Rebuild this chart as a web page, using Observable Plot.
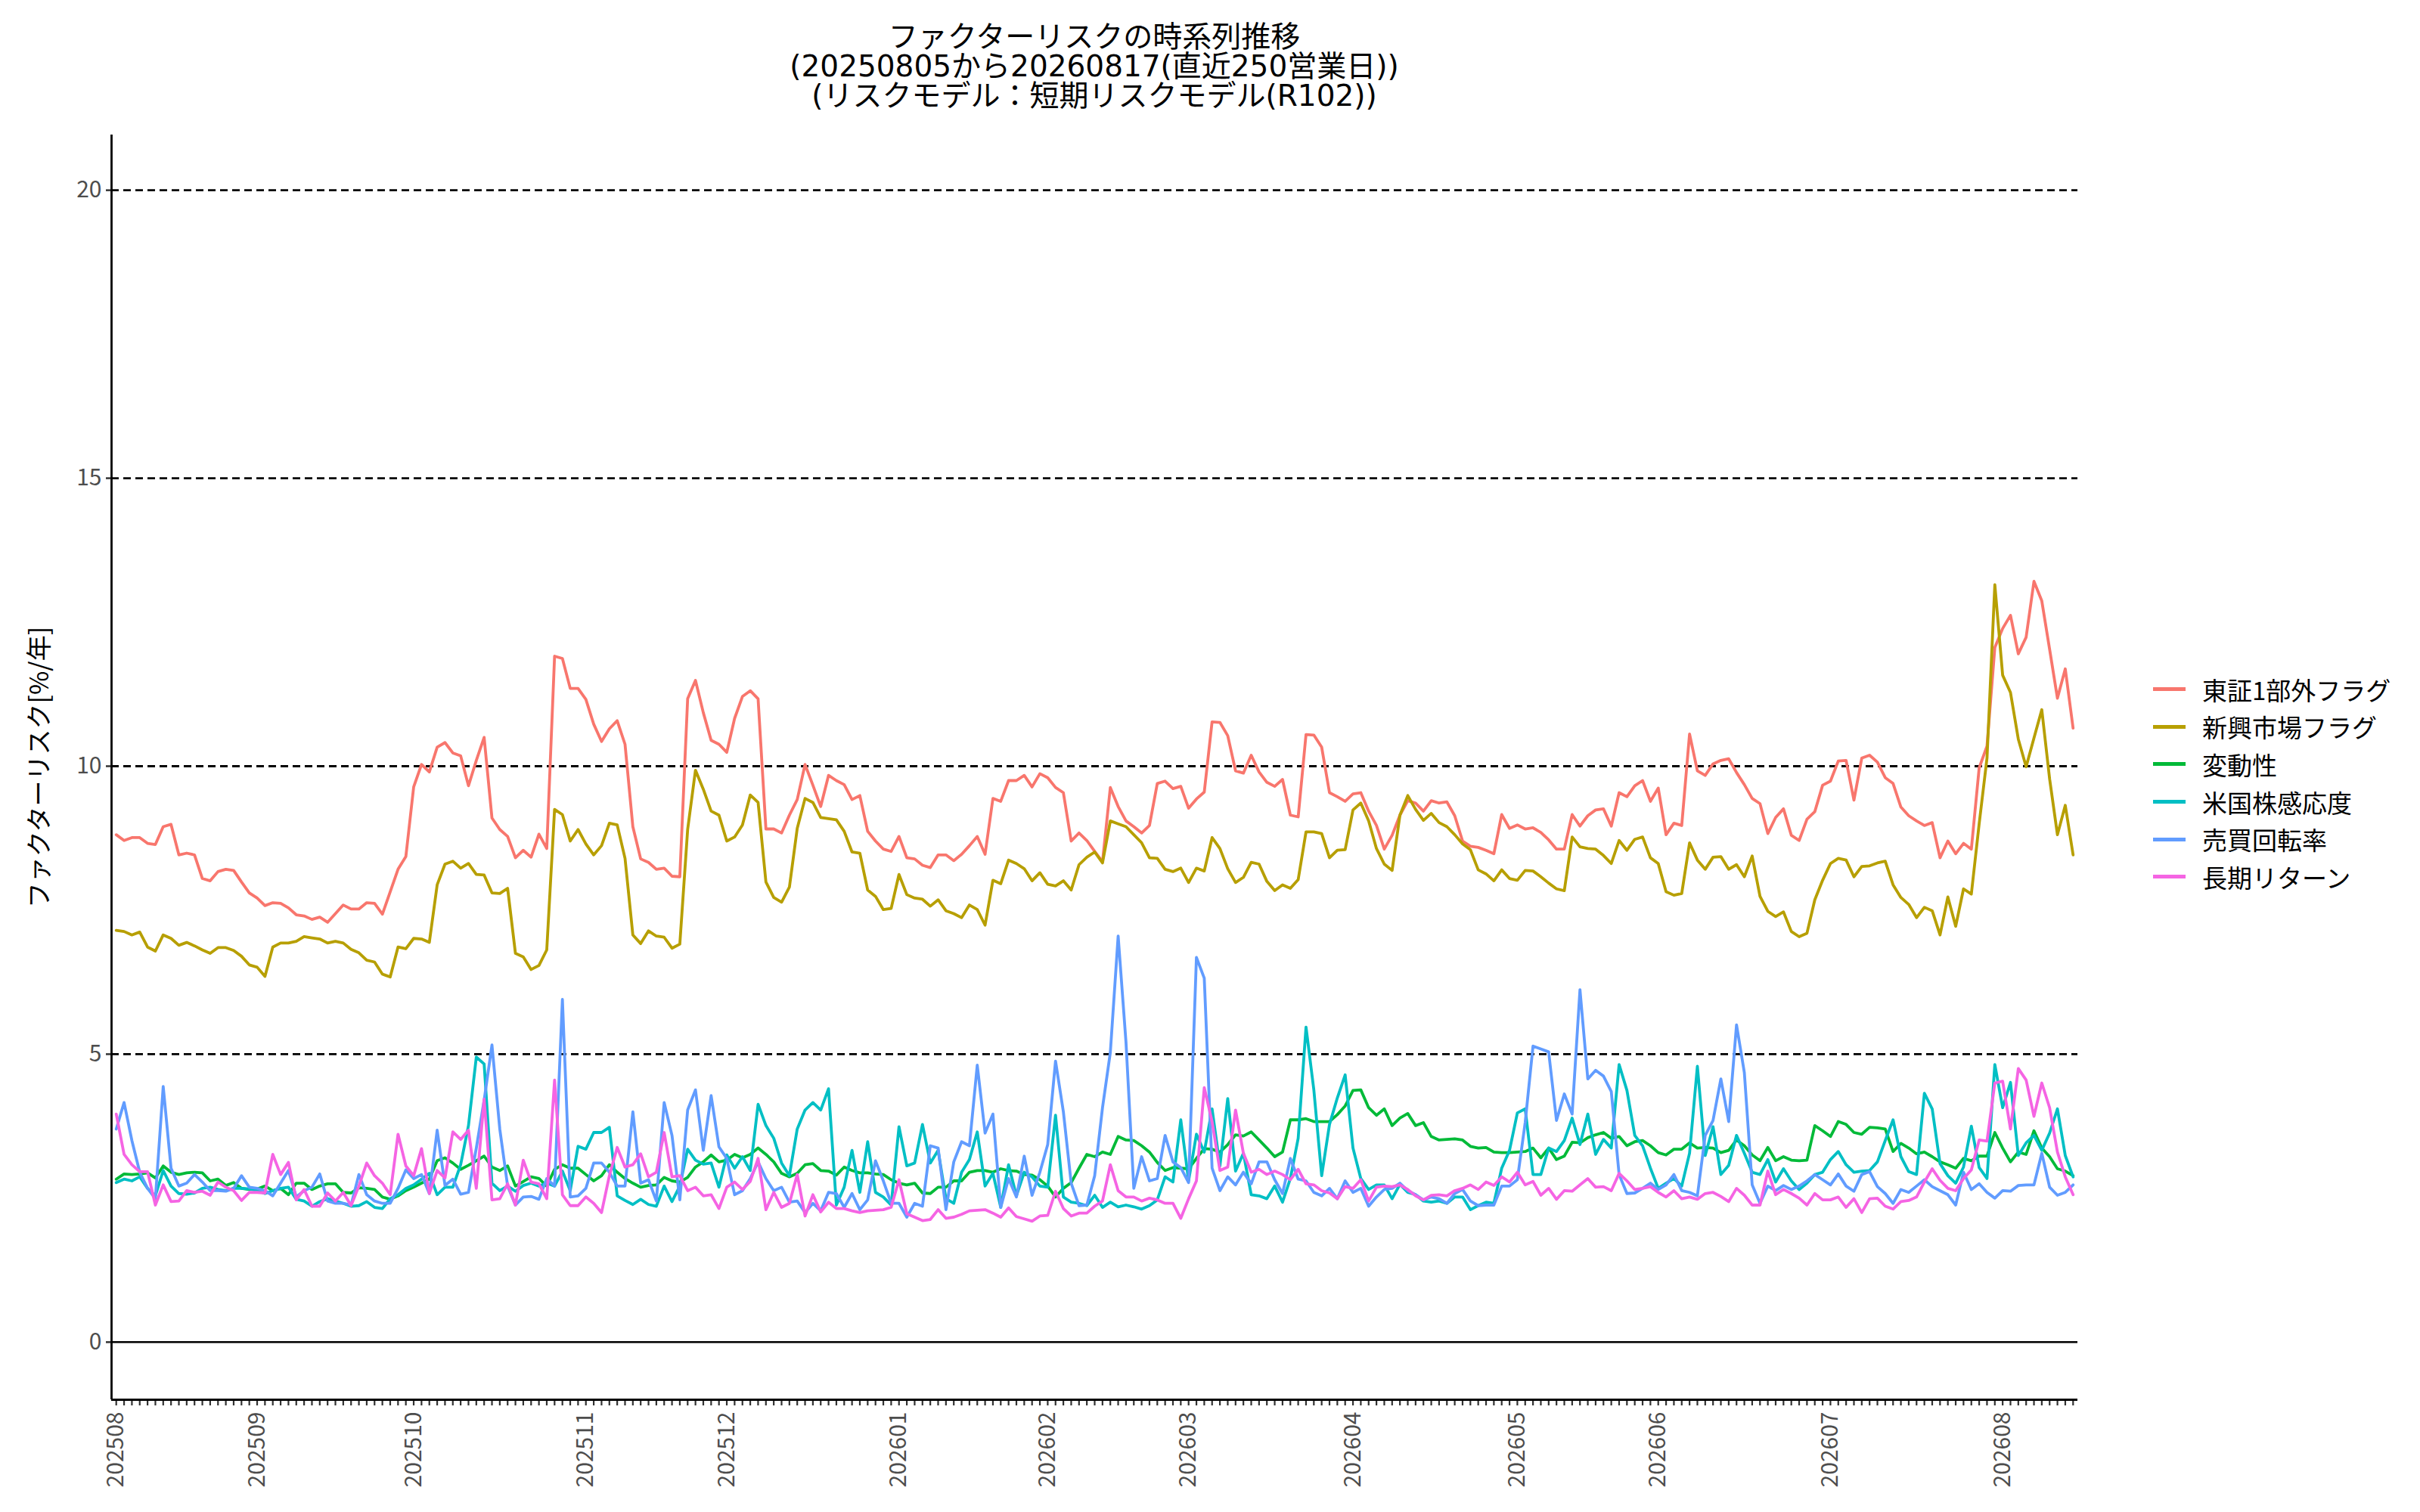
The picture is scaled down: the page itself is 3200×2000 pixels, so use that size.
<!DOCTYPE html>
<html>
<head>
<meta charset="utf-8">
<script src="https://cdn.jsdelivr.net/npm/d3@7"></script>
<script src="https://cdn.jsdelivr.net/npm/@observablehq/plot@0.6"></script>
<style>
html, body { margin: 0; padding: 0; background: #fff; }
#wrap { position: relative; width: 3200px; height: 2000px; background: #fff; font-family: "Noto Sans CJK JP", "Noto Sans", sans-serif; }
#title { position: absolute; left: 0; top: 29px; width: 2894px; text-align: center; color: #000; font-family: "DejaVu Sans", "Noto Sans CJK JP", sans-serif; }
#title div { font-size: 39px; line-height: 39px; height: 39px; white-space: nowrap; }
#chart { position: absolute; left: 0; top: 150px; }
#legend { position: absolute; left: 2847px; top: 887px; }
.row { height: 49.6px; display: flex; align-items: center; font-size: 33px; color: #000; white-space: nowrap; }
.key { width: 43px; height: 5px; margin-right: 22px; }
</style>
</head>
<body>
<div id="wrap">
  <div id="title"></div>
  <div id="chart"></div>
  <div id="legend"></div>
</div>
<script>
// ---- texts / categories / labels ----
const titleLines = ["ファクターリスクの時系列推移", "(20250805から20260817(直近250営業日))", "(リスクモデル：短期リスクモデル(R102))"];
const seriesNames = ["東証1部外フラグ", "新興市場フラグ", "変動性", "米国株感応度", "売買回転率", "長期リターン"];
const seriesColors = ["#F8766D", "#B79F00", "#00BA38", "#00BFC4", "#619CFF", "#F564E3"];
const monthStarts = [0, 18, 38, 60, 78, 100, 119, 137, 158, 179, 197, 219, 241];
const monthLabels = ["202508", "202509", "202510", "202511", "202512", "202601", "202602", "202603", "202604", "202605", "202606", "202607", "202608"];
const yTicks = [0, 5, 10, 15, 20];
const gridValues = [5, 10, 15, 20];
const yTitle = "ファクターリスク[%/年]";

// ---- series values (one per business day, 20250805 .. 20260817) ----
const tosho = [
 8.81,8.71,8.76,8.76,8.66,8.64,8.95,8.99,8.46,8.49,
 8.46,8.05,8.01,8.17,8.21,8.19,7.99,7.80,7.71,7.58,
 7.63,7.62,7.54,7.42,7.40,7.34,7.38,7.29,7.44,7.59,
 7.52,7.52,7.63,7.62,7.43,7.82,8.21,8.43,9.64,10.03,
 9.90,10.33,10.41,10.23,10.18,9.66,10.10,10.50,9.10,8.90,
 8.78,8.41,8.54,8.42,8.82,8.57,11.91,11.87,11.35,11.35,
 11.16,10.73,10.43,10.65,10.79,10.38,8.95,8.39,8.33,8.21,
 8.23,8.09,8.08,11.17,11.49,10.93,10.45,10.38,10.24,10.83,
 11.21,11.31,11.17,
 8.91,8.91,8.84,9.15,9.42,10.03,9.67,9.30,9.84,9.75,
 9.68,9.42,9.49,8.87,8.70,8.56,8.52,8.78,8.41,8.39,
 8.28,8.24,8.46,8.46,8.36,8.47,8.62,8.78,8.47,9.44,
 9.39,9.75,9.75,9.84,9.64,9.87,9.80,9.63,9.54,8.70,
 8.84,8.71,8.52,8.34,9.63,9.30,9.05,8.95,8.84,8.97,
 9.70,9.74,9.61,9.65,9.27,9.43,9.55,10.77,10.76,10.53,
 9.92,9.88,10.19,9.90,9.72,9.65,9.77,9.15,9.12,10.55,
 10.54,10.33,9.54,9.47,9.39,9.52,9.54,9.22,8.97,8.56,
 8.80,9.15,9.40,
 9.36,9.22,9.40,9.36,9.38,9.14,8.70,8.61,8.59,8.54,
 8.48,9.16,8.92,8.98,8.91,8.93,8.85,8.72,8.56,8.56,
 9.16,8.96,9.14,9.24,9.26,8.96,9.54,9.47,9.66,9.75,
 9.39,9.62,8.81,9.01,8.97,10.56,9.92,9.84,10.04,10.10,
 10.13,9.89,9.68,9.44,9.35,8.83,9.11,9.26,8.80,8.71,
 9.08,9.21,9.67,9.74,10.09,10.10,9.41,10.14,10.19,10.07,
 9.80,9.70,9.29,9.14,9.05,8.97,9.02,8.41,8.70,8.48,
 8.66,8.56,9.97,10.35,12.06,12.39,12.62,11.95,12.24,13.21,
 12.87,12.03,11.18,11.69,10.66
];
const shinko = [
 7.15,7.13,7.07,7.12,6.86,6.79,7.07,7.01,6.89,6.94,
 6.88,6.81,6.75,6.85,6.85,6.80,6.70,6.55,6.51,6.35,
 6.86,6.93,6.93,6.96,7.04,7.02,7.00,6.93,6.96,6.93,
 6.82,6.76,6.63,6.60,6.39,6.34,6.86,6.83,7.01,7.00,
 6.94,7.94,8.30,8.35,8.23,8.31,8.12,8.11,7.80,7.79,
 7.88,6.75,6.69,6.47,6.54,6.81,9.25,9.16,8.70,8.90,
 8.65,8.46,8.62,9.01,8.98,8.40,7.07,6.92,7.14,7.05,
 7.03,6.84,6.91,8.90,9.93,9.60,9.22,9.15,8.70,8.77,
 8.98,9.50,9.37,
 7.99,7.72,7.64,7.90,8.92,9.44,9.37,9.11,9.09,9.07,
 8.87,8.51,8.49,7.85,7.74,7.51,7.53,8.12,7.77,7.71,
 7.69,7.57,7.68,7.49,7.44,7.37,7.59,7.51,7.24,8.02,
 7.96,8.37,8.31,8.22,8.01,8.15,7.95,7.92,8.01,7.85,
 8.29,8.42,8.51,8.32,9.05,9.00,8.95,8.81,8.67,8.41,
 8.40,8.21,8.17,8.23,7.98,8.23,8.18,8.76,8.57,8.22,
 7.98,8.07,8.33,8.30,8.00,7.84,7.94,7.88,8.03,8.86,
 8.86,8.83,8.41,8.54,8.55,9.24,9.36,9.05,8.57,8.30,
 8.19,9.15,9.49,
 9.25,9.06,9.18,9.02,8.95,8.81,8.65,8.55,8.20,8.13,
 8.01,8.20,8.05,8.02,8.19,8.18,8.08,7.97,7.87,7.84,
 8.77,8.60,8.57,8.56,8.45,8.31,8.71,8.54,8.73,8.77,
 8.41,8.31,7.82,7.76,7.79,8.67,8.37,8.21,8.42,8.43,
 8.21,8.29,8.08,8.44,7.74,7.48,7.39,7.47,7.13,7.04,
 7.10,7.68,8.02,8.31,8.40,8.37,8.08,8.26,8.27,8.32,
 8.35,7.94,7.72,7.60,7.37,7.55,7.49,7.07,7.73,7.22,
 7.87,7.78,9.00,10.14,13.15,11.58,11.28,10.47,9.99,10.49,
 10.98,9.78,8.81,9.32,8.46
];
const hendo = [
 2.83,2.92,2.91,2.92,2.94,2.85,3.06,2.95,2.91,2.94,
 2.95,2.94,2.80,2.83,2.72,2.77,2.67,2.65,2.66,2.71,
 2.63,2.67,2.56,2.76,2.76,2.65,2.71,2.75,2.75,2.60,
 2.59,2.68,2.67,2.65,2.52,2.48,2.54,2.63,2.69,2.76,
 2.83,3.15,3.20,3.11,3.00,3.07,3.15,3.23,3.04,2.98,
 3.06,2.71,2.79,2.87,2.84,2.71,3.00,3.08,3.02,3.02,
 2.91,2.80,2.89,3.08,2.95,2.84,2.76,2.69,2.72,2.73,
 2.86,2.80,2.78,2.86,3.04,3.13,3.25,3.13,3.16,3.26,
 3.20,3.26,3.37,
 3.26,3.13,2.93,2.87,2.93,3.08,3.10,2.98,2.97,2.90,
 3.04,2.98,2.94,2.94,2.92,2.91,2.82,2.76,2.73,2.76,
 2.59,2.58,2.69,2.69,2.80,2.80,2.95,2.98,2.98,2.95,
 3.01,2.98,2.97,2.91,2.90,2.82,2.71,2.52,2.67,2.77,
 3.02,3.26,3.22,3.30,3.26,3.57,3.51,3.50,3.41,3.30,
 3.12,2.98,3.03,3.02,3.01,3.19,3.36,3.35,3.30,3.43,
 3.60,3.58,3.65,3.51,3.37,3.22,3.30,3.86,3.86,3.88,
 3.83,3.83,3.83,3.95,4.10,4.37,4.38,4.07,3.94,4.05,
 3.76,3.89,3.97,
 3.76,3.81,3.57,3.51,3.52,3.53,3.51,3.40,3.37,3.38,
 3.30,3.29,3.29,3.30,3.31,3.37,3.20,3.37,3.17,3.23,
 3.47,3.46,3.55,3.60,3.64,3.54,3.57,3.41,3.48,3.50,
 3.41,3.29,3.25,3.35,3.35,3.46,3.37,3.38,3.37,3.29,
 3.33,3.51,3.41,3.25,3.15,3.38,3.15,3.22,3.16,3.15,
 3.16,3.76,3.67,3.57,3.83,3.78,3.64,3.61,3.73,3.72,
 3.70,3.31,3.45,3.37,3.27,3.30,3.22,3.13,3.08,3.02,
 3.19,3.15,3.23,3.23,3.64,3.37,3.13,3.30,3.26,3.67,
 3.37,3.22,3.01,2.97,2.89
];
const beikoku = [
 2.77,2.83,2.80,2.87,2.67,2.54,2.98,2.71,2.58,2.57,
 2.59,2.67,2.69,2.65,2.63,2.67,2.67,2.66,2.63,2.58,
 2.63,2.67,2.69,2.48,2.45,2.36,2.44,2.49,2.45,2.41,
 2.36,2.37,2.44,2.34,2.32,2.49,2.56,2.67,2.73,2.83,
 2.93,2.56,2.69,2.69,3.08,3.76,4.95,4.83,2.76,2.63,
 2.71,2.62,2.72,2.76,2.71,2.76,2.71,2.97,2.63,3.40,
 3.35,3.64,3.64,3.73,2.54,2.46,2.39,2.48,2.39,2.36,
 2.71,2.44,2.71,3.35,3.16,3.09,3.11,2.69,3.25,3.02,
 3.22,2.98,4.13,
 3.76,3.54,3.11,2.89,3.70,4.03,4.16,4.03,4.40,2.38,
 2.69,3.33,2.60,3.48,2.60,2.52,2.38,3.74,3.06,3.11,
 3.78,3.11,3.33,2.49,2.41,2.95,3.17,3.65,2.71,2.93,
 2.34,3.08,2.54,2.95,2.87,2.71,2.69,3.94,2.52,2.43,
 2.41,2.37,2.55,2.34,2.43,2.35,2.38,2.35,2.31,2.37,
 2.47,2.87,2.78,3.86,2.80,3.61,3.30,4.05,3.06,4.23,
 2.97,3.28,2.56,2.54,2.49,2.71,2.43,2.84,3.54,5.47,
 4.38,2.89,3.78,4.24,4.64,3.37,2.84,2.65,2.73,2.73,
 2.49,2.74,2.60,
 2.56,2.45,2.43,2.45,2.41,2.52,2.52,2.30,2.37,2.43,
 2.41,3.02,3.33,3.98,4.05,2.91,2.91,3.37,3.31,3.50,
 3.89,3.43,3.96,3.26,3.52,3.37,4.82,4.37,3.59,3.41,
 3.02,2.67,2.76,2.84,2.71,3.28,4.79,3.24,3.74,2.91,
 3.07,3.59,3.28,2.95,2.91,3.17,2.78,3.01,2.80,2.65,
 2.76,2.91,2.95,3.17,3.31,3.08,2.95,2.97,2.98,3.13,
 3.50,3.86,3.22,2.96,2.91,4.32,4.05,3.10,2.89,2.76,
 3.04,3.75,3.03,2.84,4.82,4.07,4.51,3.24,3.46,3.59,
 3.33,3.63,4.05,3.24,2.87
];
const baibai = [
 3.70,4.16,3.50,2.95,2.67,2.49,4.44,3.02,2.71,2.76,
 2.91,2.78,2.63,2.63,2.62,2.67,2.89,2.69,2.67,2.63,
 2.54,2.76,2.98,2.52,2.63,2.69,2.92,2.45,2.41,2.41,
 2.38,2.91,2.56,2.45,2.41,2.41,2.67,2.99,2.84,2.91,
 2.58,3.68,2.72,2.83,2.57,2.60,3.37,4.20,5.16,3.70,
 2.71,2.38,2.52,2.53,2.48,2.84,2.71,5.95,2.52,2.54,
 2.67,3.11,3.11,2.95,2.71,2.71,4.00,2.76,2.82,2.45,
 4.16,3.59,2.47,4.03,4.38,3.33,4.28,3.39,3.19,2.56,
 2.63,2.84,3.13,
 2.84,2.63,2.69,2.43,2.45,2.25,2.41,2.28,2.60,2.58,
 2.34,2.58,2.30,2.47,3.15,2.80,2.41,2.41,2.17,2.41,
 2.36,3.41,3.37,2.30,3.13,3.48,3.41,4.81,3.63,3.96,
 2.34,2.84,2.52,3.23,2.55,2.95,3.43,4.88,4.00,2.76,
 2.37,2.38,2.89,4.07,5.03,7.05,5.21,2.67,3.22,2.80,
 2.84,3.59,3.13,3.03,2.77,6.68,6.32,3.02,2.63,2.87,
 2.73,2.95,2.75,3.13,3.13,2.82,2.58,3.19,2.83,2.80,
 2.60,2.54,2.67,2.49,2.80,2.60,2.67,2.36,2.52,2.65,
 2.67,2.76,2.63,
 2.56,2.47,2.52,2.49,2.41,2.58,2.65,2.45,2.37,2.38,
 2.38,2.71,2.71,2.82,3.81,5.14,5.09,5.04,3.85,4.31,
 3.96,6.12,4.57,4.72,4.62,4.35,2.91,2.58,2.59,2.67,
 2.76,2.65,2.73,2.91,2.63,2.60,2.54,3.59,3.85,4.57,
 3.83,5.51,4.68,2.73,2.41,2.71,2.63,2.72,2.65,2.71,
 2.80,2.91,2.82,2.73,2.92,2.71,2.62,2.91,2.96,2.70,
 2.58,2.41,2.65,2.60,2.71,2.82,2.70,2.63,2.56,2.38,
 2.95,2.65,2.75,2.60,2.50,2.63,2.62,2.72,2.73,2.73,
 3.28,2.69,2.55,2.60,2.73
];
const choki = [
 3.96,3.26,3.08,2.96,2.96,2.38,2.73,2.44,2.45,2.63,
 2.60,2.62,2.55,2.78,2.69,2.63,2.46,2.60,2.60,2.59,
 3.26,2.91,3.12,2.47,2.65,2.36,2.36,2.59,2.45,2.60,
 2.37,2.71,3.11,2.89,2.76,2.56,3.61,3.06,2.89,3.36,
 2.58,2.98,2.85,3.65,3.52,3.68,2.67,4.22,2.47,2.49,
 2.75,2.38,3.16,2.78,2.75,2.49,4.55,2.56,2.37,2.37,
 2.52,2.41,2.25,2.89,3.38,3.04,3.08,3.27,2.87,2.95,
 3.64,2.87,2.89,2.63,2.69,2.54,2.56,2.32,2.69,2.78,
 2.65,2.79,3.19,
 2.30,2.60,2.34,2.41,2.91,2.19,2.56,2.26,2.43,2.32,
 2.32,2.28,2.25,2.28,2.29,2.30,2.34,2.82,2.23,2.17,
 2.11,2.13,2.30,2.15,2.17,2.22,2.28,2.29,2.30,2.24,
 2.17,2.33,2.18,2.14,2.10,2.19,2.20,2.62,2.32,2.19,
 2.24,2.24,2.36,2.45,3.08,2.63,2.52,2.52,2.45,2.50,
 2.47,2.41,2.41,2.15,2.49,2.80,4.42,3.83,2.98,3.04,
 4.03,3.28,2.95,3.00,2.91,2.97,2.91,2.82,3.00,2.75,
 2.73,2.63,2.59,2.49,2.70,2.67,2.82,2.45,2.69,2.71,
 2.70,2.73,2.65,
 2.54,2.47,2.55,2.56,2.54,2.63,2.67,2.73,2.65,2.78,
 2.72,2.87,2.78,2.95,2.73,2.79,2.55,2.67,2.48,2.63,
 2.62,2.73,2.84,2.69,2.70,2.63,2.93,2.80,2.65,2.67,
 2.70,2.60,2.52,2.63,2.49,2.52,2.48,2.58,2.60,2.53,
 2.44,2.67,2.55,2.38,2.38,2.97,2.56,2.65,2.58,2.50,
 2.38,2.58,2.47,2.47,2.52,2.34,2.49,2.25,2.49,2.50,
 2.36,2.31,2.44,2.46,2.52,2.78,3.01,2.81,2.67,2.63,
 2.84,2.99,3.51,3.49,4.50,4.53,3.70,4.75,4.55,3.92,
 4.50,4.07,3.30,2.87,2.56
];

// ---- table for the library ----
const seriesValues = [tosho, shinko, hendo, beikoku, baibai, choki];
const rows = seriesValues.flatMap((vals, k) => vals.map((v, i) => ({i, v, s: seriesNames[k]})));
const dayIndex = tosho.map((_, i) => i);
const labelAt = new Map(monthStarts.map((m, k) => [m, monthLabels[k]]));
const xMin = -0.6, xMax = tosho.length - 1 + 0.6;
const yMin = -1.0, yMax = 20.96;
const fontStack = "'Noto Sans CJK JP', 'Noto Sans', sans-serif";

const chart = Plot.plot({
  width: 2800,
  height: 1850,
  marginTop: 28,
  marginBottom: 149,
  marginLeft: 147,
  marginRight: 53,
  style: {fontFamily: fontStack, fontSize: "30px", background: "white", color: "black", overflow: "visible"},
  x: {domain: [xMin, xMax]},
  y: {domain: [yMin, yMax]},
  color: {domain: seriesNames, range: seriesColors},
  marks: [
    Plot.ruleY(gridValues, {stroke: "black", strokeWidth: 2.8, strokeDasharray: "10,6"}),
    Plot.ruleY([0], {stroke: "black", strokeWidth: 2.6}),
    Plot.line(rows, {x: "i", y: "v", z: "s", stroke: "s", strokeWidth: 3.8, strokeLinejoin: "round"}),
    Plot.axisY({ticks: yTicks, tickSize: 7, tickPadding: 6, fontSize: 30, fill: "#4D4D4D", stroke: "#333333", strokeWidth: 2.5, label: null}),
    Plot.axisX({ticks: dayIndex, tickSize: 8, tickPadding: 8, tickRotate: -90, tickFormat: d => labelAt.get(d) ?? "", fontSize: 30, fill: "#4D4D4D", stroke: "#333333", strokeWidth: 2.2, label: null}),
    Plot.ruleX([xMin], {stroke: "black", strokeWidth: 2.8}),
    Plot.ruleY([yMin], {stroke: "black", strokeWidth: 2.8}),
    Plot.text([yTitle], {frameAnchor: "left", dx: -94, rotate: -90, textAnchor: "middle", fontSize: 34, fill: "black"})
  ]
});
document.getElementById("chart").appendChild(chart);

// ---- title ----
const title = d3.select("#title");
titleLines.forEach(t => title.append("div").text(t));

// ---- legend ----
const legend = d3.select("#legend");
seriesNames.forEach((name, k) => {
  const row = legend.append("div").attr("class", "row");
  row.append("div").attr("class", "key").style("background", seriesColors[k]);
  row.append("span").text(name);
});
</script>
</body>
</html>
